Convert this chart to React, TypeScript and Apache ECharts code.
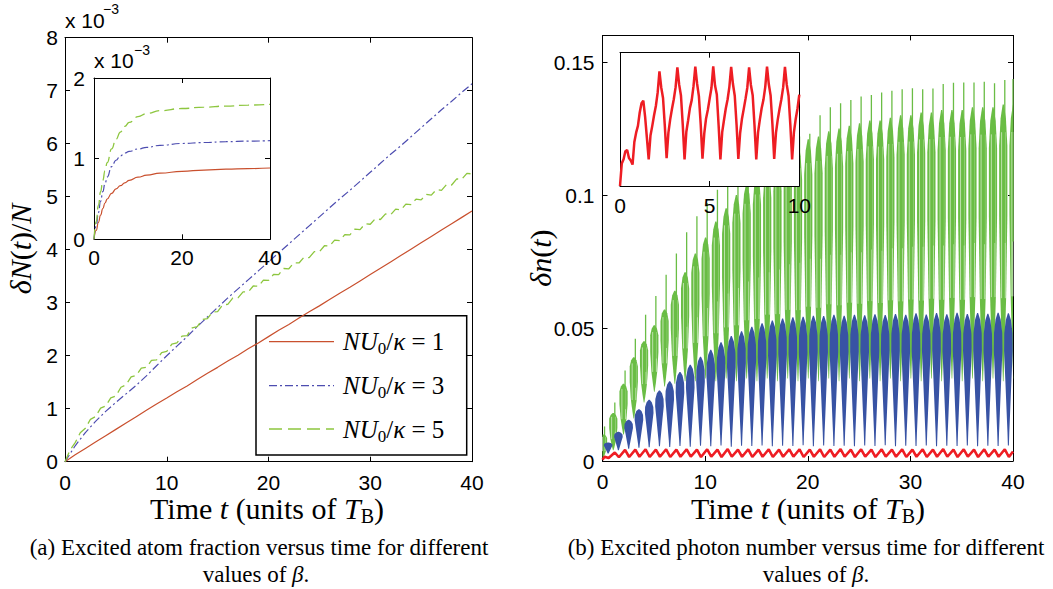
import React, { useEffect, useRef } from "react";
import * as echarts from "echarts";

// ---------------- Panel (a): excited atom fraction, values in units of 1e-3 ----------------
const timeA = [0, 1, 2, 3, 4, 5, 6, 7, 8, 9, 10, 11, 12, 13, 14, 15, 16, 17, 18, 19, 20, 21, 22, 23, 24, 25, 26, 27, 28, 29, 30, 31, 32, 33, 34, 35, 36, 37, 38, 39, 40];
const redA = [0, 0.13, 0.25, 0.37, 0.49, 0.61, 0.73, 0.85, 0.97, 1.09, 1.2, 1.32, 1.43, 1.55, 1.67, 1.78, 1.9, 2.01, 2.13, 2.24, 2.36, 2.48, 2.59, 2.71, 2.83, 2.94, 3.06, 3.18, 3.29, 3.41, 3.53, 3.65, 3.77, 3.89, 4.01, 4.13, 4.25, 4.37, 4.49, 4.61, 4.73];
const blueA = [0, 0.3, 0.55, 0.76, 0.95, 1.12, 1.28, 1.44, 1.62, 1.81, 2.0, 2.18, 2.36, 2.55, 2.73, 2.91, 3.09, 3.26, 3.43, 3.6, 3.77, 3.94, 4.11, 4.28, 4.45, 4.62, 4.79, 4.96, 5.12, 5.29, 5.46, 5.63, 5.8, 5.96, 6.13, 6.3, 6.47, 6.64, 6.8, 6.97, 7.13];
// green (NU0/kappa = 5) sampled every half unit, with its small ripples
const greenTimeA = [0, 0.5, 1, 1.5, 2, 2.5, 3, 3.5, 4, 4.5, 5, 5.5, 6, 6.5, 7, 7.5, 8, 8.5, 9, 9.5, 10, 10.5, 11, 11.5, 12, 12.5, 13, 13.5, 14, 14.5, 15, 15.5, 16, 16.5, 17, 17.5, 18, 18.5, 19, 19.5, 20, 20.5, 21, 21.5, 22, 22.5, 23, 23.5, 24, 24.5, 25, 25.5, 26, 26.5, 27, 27.5, 28, 28.5, 29, 29.5, 30, 30.5, 31, 31.5, 32, 32.5, 33, 33.5, 34, 34.5, 35, 35.5, 36, 36.5, 37, 37.5, 38, 38.5, 39, 39.5, 40];
const greenA = [0, 0.22, 0.36, 0.545, 0.63, 0.8, 0.85, 1.01, 1.05, 1.205, 1.24, 1.405, 1.45, 1.6, 1.63, 1.765, 1.78, 1.91, 1.92, 2.06, 2.08, 2.22, 2.24, 2.37, 2.38, 2.525, 2.55, 2.685, 2.7, 2.825, 2.83, 2.96, 2.97, 3.09, 3.09, 3.205, 3.2, 3.315, 3.31, 3.425, 3.42, 3.535, 3.53, 3.645, 3.64, 3.755, 3.75, 3.86, 3.85, 3.965, 3.96, 4.075, 4.07, 4.18, 4.17, 4.285, 4.28, 4.39, 4.38, 4.49, 4.48, 4.585, 4.57, 4.675, 4.66, 4.765, 4.75, 4.86, 4.85, 4.955, 4.94, 5.045, 5.03, 5.135, 5.12, 5.23, 5.22, 5.335, 5.33, 5.44, 5.43];
// inset (a)
const insetTimeA = [0, 0.5, 1, 1.5, 2, 2.5, 3, 4, 5, 6, 7, 8, 10, 12, 15, 20, 25, 30, 35, 40];
const insetRedA = [0, 0.11, 0.21, 0.3, 0.38, 0.45, 0.5, 0.57, 0.625, 0.665, 0.7, 0.73, 0.77, 0.795, 0.82, 0.843, 0.858, 0.869, 0.877, 0.884];
const insetBlueA = [0, 0.17, 0.33, 0.47, 0.59, 0.69, 0.77, 0.9, 0.98, 1.035, 1.07, 1.09, 1.12, 1.14, 1.165, 1.188, 1.2, 1.21, 1.217, 1.223];
const insetGreenA = [0, 0.22, 0.42, 0.59, 0.73, 0.85, 0.95, 1.12, 1.24, 1.33, 1.4, 1.45, 1.52, 1.56, 1.595, 1.622, 1.638, 1.652, 1.664, 1.674];
const legendLabels = ["1", "3", "5"];

// ---------------- Panel (b): excited photon number, one entry per Bloch period ----------------
const bluePeaksB = [0.007, 0.011, 0.0155, 0.0195, 0.023, 0.0265, 0.03, 0.0335, 0.0362, 0.0392, 0.0418, 0.0446, 0.047, 0.0488, 0.0505, 0.0518, 0.0528, 0.0536, 0.054, 0.0542, 0.0546, 0.0545, 0.055, 0.0546, 0.055, 0.0548, 0.0552, 0.0549, 0.0553, 0.055, 0.0555, 0.0551, 0.0556, 0.0552, 0.0557, 0.0553, 0.0556, 0.0554, 0.0557, 0.0555];
const blueTroughsB = [0.0028, 0.004, 0.0046, 0.005, 0.0052, 0.0055, 0.0053, 0.0056, 0.0054, 0.0057, 0.0055, 0.0058, 0.0054, 0.0057, 0.0056, 0.0058, 0.0055, 0.0057, 0.0056, 0.0059, 0.0055, 0.0058, 0.0056, 0.0057, 0.0055, 0.0058, 0.0056, 0.0059, 0.0055, 0.0057, 0.0056, 0.0058, 0.0055, 0.0057, 0.0056, 0.0058, 0.0055, 0.0057, 0.0056, 0.0058];
// green: 41 periods, centred between the blue spindles
const greenLowsB = [0.001, 0.004, 0.01, 0.016, 0.022, 0.026, 0.028, 0.029, 0.03, 0.03, 0.031, 0.03, 0.031, 0.03, 0.031, 0.03, 0.031, 0.03, 0.031, 0.03, 0.031, 0.03, 0.031, 0.03, 0.031, 0.03, 0.031, 0.03, 0.031, 0.03, 0.031, 0.03, 0.031, 0.03, 0.031, 0.03, 0.031, 0.03, 0.031, 0.03, 0.031];
const greenTopsB = [0.01, 0.018, 0.029, 0.039, 0.045, 0.051, 0.057, 0.064, 0.071, 0.078, 0.084, 0.09, 0.095, 0.1, 0.104, 0.108, 0.111, 0.114, 0.117, 0.119, 0.121, 0.122, 0.124, 0.125, 0.126, 0.127, 0.128, 0.128, 0.129, 0.13, 0.13, 0.131, 0.131, 0.132, 0.132, 0.132, 0.133, 0.133, 0.133, 0.134, 0.134];
const greenSpikesB = [0.013, 0.022, 0.034, 0.046, 0.055, 0.062, 0.07, 0.078, 0.086, 0.092, 0.097, 0.102, 0.106, 0.11, 0.113, 0.116, 0.118, 0.12, 0.121, 0.122, 0.123, 0.13, 0.133, 0.1345, 0.1357, 0.137, 0.1376, 0.1385, 0.1392, 0.1398, 0.1401, 0.1398, 0.14, 0.1417, 0.1422, 0.1423, 0.1423, 0.1426, 0.142, 0.1432, 0.1436];
const redPeaksB = [0.0016, 0.0032, 0.0042, 0.0043, 0.0044, 0.0043, 0.0044, 0.0043, 0.0044, 0.0043, 0.0044, 0.0043, 0.0045, 0.0043, 0.0044, 0.0043, 0.0044, 0.0043, 0.0044, 0.0044, 0.0043, 0.0044, 0.0043, 0.0045, 0.0043, 0.0044, 0.0043, 0.0044, 0.0043, 0.0044, 0.0043, 0.0044, 0.0043, 0.0045, 0.0043, 0.0044, 0.0043, 0.0044, 0.0043, 0.0044];
const redTroughsB = [0.0011, 0.0014, 0.0015, 0.0016, 0.0015, 0.0016, 0.0015, 0.0016, 0.0016, 0.0015, 0.0016, 0.0015, 0.0016, 0.0016, 0.0015, 0.0016, 0.0015, 0.0016, 0.0016, 0.0015, 0.0016, 0.0015, 0.0016, 0.0016, 0.0015, 0.0016, 0.0015, 0.0016, 0.0016, 0.0015, 0.0016, 0.0015, 0.0016, 0.0016, 0.0015, 0.0016, 0.0015, 0.0016, 0.0016, 0.0015];
const redStartB = 0.0005;
const redEndB = 0.0036;
// inset (b): red curve, t = 0 .. 10 every 0.1
const insetRedB = [0.0005, 0.00123, 0.00136, 0.00162, 0.00166, 0.0014, 0.00132, 0.00119, 0.00192, 0.00222, 0.00244, 0.00287, 0.00317, 0.00325, 0.00274, 0.00205, 0.00136, 0.00213, 0.00244, 0.00278, 0.00308, 0.00351, 0.0042, 0.00368, 0.00334, 0.00244, 0.0014, 0.00222, 0.00265, 0.00299, 0.0033, 0.00368, 0.00433, 0.00377, 0.00342, 0.00248, 0.00136, 0.00225, 0.00262, 0.00302, 0.00327, 0.00372, 0.00435, 0.0038, 0.0034, 0.0025, 0.00138, 0.0022, 0.00268, 0.00296, 0.00332, 0.00366, 0.00436, 0.00374, 0.00345, 0.00246, 0.00136, 0.00224, 0.00263, 0.003, 0.00329, 0.0037, 0.00434, 0.00379, 0.00341, 0.00249, 0.00137, 0.00221, 0.00266, 0.00298, 0.00331, 0.00367, 0.00433, 0.00376, 0.00343, 0.00247, 0.00136, 0.00223, 0.00264, 0.00301, 0.00328, 0.00369, 0.00435, 0.00378, 0.00342, 0.0025, 0.00137, 0.00222, 0.00265, 0.00299, 0.0033, 0.00368, 0.00434, 0.00377, 0.00341, 0.00248, 0.00136, 0.00223, 0.00266, 0.003, 0.00345];

// ---------------- styles ----------------
const RED_A = "#c9502e";
const BLUE_A = "#4d4db0";
const GREEN_A = "#8dc63f";
const GREEN_B = "#6abd45";
const BLUE_B = "#3853a4";
const RED_B = "#ee1d23";
const DASHDOT = [8, 3, 2, 3];
const DASHED = [10, 5];
const SANS = "Liberation Sans";
const SERIF = "Liberation Serif";
// phase of the features inside each Bloch period (time units)
const BLUE_PHASE = 0.55;
const GREEN_PHASE = 0.05;
const SPIKE_SHIFT = 0.15;
const SLIT_SHIFTS = [-0.16, 0.2];
const RED_PEAK_PHASE = 0.2;
const RED_TROUGH_PHASE = 0.6;
// lens shape of the fast oscillation envelopes: [height fraction, half width in time units]
const BLUE_PROFILE = [[0, 0.05], [0.1, 0.09], [0.25, 0.17], [0.5, 0.3], [0.72, 0.42], [0.85, 0.4], [0.95, 0.25], [1, 0.05]];
const GREEN_PROFILE = [[0, 0.03], [0.12, 0.14], [0.3, 0.28], [0.6, 0.4], [0.85, 0.4], [0.95, 0.26], [1, 0.06]];

const lensPoints = (api: any, c: number, lo: number, hi: number, profile: number[][]) => {
  const pts: number[][] = [];
  for (const [f, w] of profile) pts.push(api.coord([Math.max(0, c - w), lo + f * (hi - lo)]));
  for (let i = profile.length - 1; i >= 0; i--) {
    const [f, w] = profile[i];
    pts.push(api.coord([Math.min(40, c + w), lo + f * (hi - lo)]));
  }
  return pts;
};

const axisBase = (extra: any) => ({
  type: "value",
  splitLine: { show: false },
  axisLine: { onZero: false, lineStyle: { color: "#000", width: 1 } },
  axisTick: { inside: true, length: 5, lineStyle: { color: "#000", width: 1 } },
  axisLabel: { color: "#000", fontFamily: SANS, fontSize: 21 },
  ...extra,
});

export default function App() {
  const ref = useRef<HTMLDivElement>(null);
  useEffect(() => {
    document.body.style.margin = "0";
    const chart = echarts.init(ref.current!, undefined, { renderer: "svg" });

    const pairs = (ts: number[], vs: number[]) => ts.map((t, i) => [t, vs[i]]);
    const blueDataB = bluePeaksB.map((p, k) => [k + BLUE_PHASE, blueTroughsB[k], p]);
    const greenDataB = greenTopsB.map((p, k) => [k + GREEN_PHASE, greenLowsB[k], p, greenSpikesB[k]]);
    const redDataB: number[][] = [[0, redStartB]];
    redPeaksB.forEach((p, k) => {
      redDataB.push([k + RED_PEAK_PHASE, p]);
      redDataB.push([k + RED_TROUGH_PHASE, redTroughsB[k]]);
    });
    redDataB.push([40, redEndB]);
    const insetRedDataB = insetRedB.map((v, i) => [i / 10, v]);

    const noLabel = { show: false };
    const rich = (size: number) => ({
      it: { fontFamily: SERIF, fontStyle: "italic", fontSize: size, lineHeight: size + 6 },
      rm: { fontFamily: SERIF, fontSize: size, lineHeight: size + 6 },
      sub: { fontFamily: SERIF, fontSize: Math.round(size * 0.68), lineHeight: Math.round(size * 0.6), verticalAlign: "bottom" },
    });
    const txt = (x: number, y: number, text: string, size: number, extra: any = {}) => ({
      type: "text",
      x,
      y,
      ...extra,
      style: {
        text,
        fill: "#000",
        fontFamily: SERIF,
        fontSize: size,
        rich: rich(size),
        align: extra.align || "center",
        textAlign: extra.align || "center",
        verticalAlign: "middle",
        textVerticalAlign: "middle",
      },
    });
    const plain = (x: number, y: number, text: string, size: number, font: string) => ({
      type: "text",
      x,
      y,
      style: { text, fill: "#000", fontFamily: font, fontSize: size, align: "left", textAlign: "left", verticalAlign: "middle", textVerticalAlign: "middle" },
    });

    const legendY = [341.7, 385.7, 429];
    const legendStyles = [
      { stroke: RED_A, lineWidth: 1.3 },
      { stroke: BLUE_A, lineWidth: 1.3, lineDash: DASHDOT },
      { stroke: GREEN_A, lineWidth: 1.3, lineDash: [13, 6] },
    ];

    const graphic: any[] = [
      plain(65, 20.8, "x 10", 21, SANS),
      plain(103, 9, "−3", 14, SANS),
      plain(94, 60.8, "x 10", 21, SANS),
      plain(134, 50, "−3", 14, SANS),
      { type: "rect", shape: { x: 256, y: 315.7, width: 210.7, height: 139.3 }, style: { fill: "none", stroke: "#000", lineWidth: 1.5 } },
      ...legendY.map((y, i) => ({ type: "line", shape: { x1: 269, y1: y, x2: 334, y2: y }, style: legendStyles[i] })),
      ...legendY.map((y, i) => txt(343, y, `{it|NU}{sub|0}{rm|/}{it|κ}{rm| = ${legendLabels[i]}}`, 25, { align: "left" })),
      txt(267, 508, "{rm|Time }{it|t}{rm| (units of }{it|T}{sub|B}{rm|)}", 30),
      txt(808, 508, "{rm|Time }{it|t}{rm| (units of }{it|T}{sub|B}{rm|)}", 30),
      txt(259, 547, "{rm|(a) Excited atom fraction versus time for different}", 23),
      txt(256, 574, "{rm|values of }{it|β}{rm|.}", 23),
      txt(806, 547, "{rm|(b) Excited photon number versus time for different}", 23),
      txt(816, 574, "{rm|values of }{it|β}{rm|.}", 23),
      txt(20, 249, "{it|δN}{rm|(}{it|t}{rm|)/}{it|N}", 30, { rotation: Math.PI / 2 }),
      txt(540, 258, "{it|δn}{rm|(}{it|t}{rm|)}", 30, { rotation: Math.PI / 2 }),
    ];

    const insetLine = (vals: number[], color: string, width: number, type: any) => ({
      type: "line", xAxisIndex: 2, yAxisIndex: 2, z: 12, data: pairs(insetTimeA, vals), smooth: true, smoothMonotone: "x",
      showSymbol: false, lineStyle: { color, width, type },
    });

    const option: any = {
      animation: false,
      backgroundColor: "#fff",
      grid: [
        { left: 65, top: 37.7, width: 407, height: 424 },
        { left: 94, top: 78, width: 176, height: 161.3, show: true, backgroundColor: "#fff", borderWidth: 0, z: 10 },
        { left: 602.5, top: 35.4, width: 410.5, height: 425.6 },
        { left: 620, top: 52.7, width: 179.3, height: 133.3, show: true, backgroundColor: "#fff", borderWidth: 0, z: 10 },
      ],
      xAxis: [
        axisBase({ gridIndex: 0, position: "bottom", min: 0, max: 40, interval: 10, axisLabel: { color: "#000", fontFamily: SANS, fontSize: 21, margin: 10 } }),
        axisBase({ gridIndex: 0, position: "top", min: 0, max: 40, interval: 10, axisLabel: noLabel }),
        axisBase({ gridIndex: 1, position: "bottom", min: 0, max: 40, interval: 20, z: 11, axisLabel: { color: "#000", fontFamily: SANS, fontSize: 21, margin: 8 } }),
        axisBase({ gridIndex: 1, position: "top", min: 0, max: 40, interval: 20, z: 11, axisLabel: noLabel }),
        axisBase({ gridIndex: 2, position: "bottom", min: 0, max: 40, interval: 10, axisLabel: { color: "#000", fontFamily: SANS, fontSize: 21, margin: 10 } }),
        axisBase({ gridIndex: 2, position: "top", min: 0, max: 40, interval: 10, axisLabel: noLabel }),
        axisBase({ gridIndex: 3, position: "bottom", min: 0, max: 10, interval: 5, z: 11, axisLabel: { color: "#000", fontFamily: SANS, fontSize: 21, margin: 9 } }),
        axisBase({ gridIndex: 3, position: "top", min: 0, max: 10, interval: 5, z: 11, axisLabel: noLabel }),
      ],
      yAxis: [
        axisBase({ gridIndex: 0, position: "left", min: 0, max: 8, interval: 1, axisLabel: { color: "#000", fontFamily: SANS, fontSize: 21, margin: 7 } }),
        axisBase({ gridIndex: 0, position: "right", min: 0, max: 8, interval: 1, axisLabel: noLabel }),
        axisBase({ gridIndex: 1, position: "left", min: 0, max: 2, interval: 1, z: 11, axisLabel: { color: "#000", fontFamily: SANS, fontSize: 21, margin: 9 } }),
        axisBase({ gridIndex: 1, position: "right", min: 0, max: 2, interval: 1, z: 11, axisLabel: noLabel }),
        axisBase({ gridIndex: 2, position: "left", min: 0, max: 0.16, interval: 0.05, axisLabel: { color: "#000", fontFamily: SANS, fontSize: 21, margin: 8, showMaxLabel: false } }),
        axisBase({ gridIndex: 2, position: "right", min: 0, max: 0.16, interval: 0.05, axisLabel: noLabel }),
        axisBase({ gridIndex: 3, position: "left", min: 0.0005, max: 0.0048, z: 11, axisTick: { show: false }, axisLabel: noLabel }),
        axisBase({ gridIndex: 3, position: "right", min: 0.0005, max: 0.0048, z: 11, axisTick: { show: false }, axisLabel: noLabel }),
      ],
      series: [
        { type: "line", name: "NU0/k=1", xAxisIndex: 0, yAxisIndex: 0, data: pairs(timeA, redA), showSymbol: false, lineStyle: { color: RED_A, width: 1.2 } },
        { type: "line", name: "NU0/k=3", xAxisIndex: 0, yAxisIndex: 0, data: pairs(timeA, blueA), showSymbol: false, lineStyle: { color: BLUE_A, width: 1.2, type: DASHDOT } },
        { type: "line", name: "NU0/k=5", xAxisIndex: 0, yAxisIndex: 0, data: pairs(greenTimeA, greenA), showSymbol: false, lineStyle: { color: GREEN_A, width: 1.3, type: DASHED } },
        insetLine(insetRedA, RED_A, 1.2, "solid"),
        insetLine(insetBlueA, BLUE_A, 1.2, DASHDOT),
        insetLine(insetGreenA, GREEN_A, 1.3, DASHED),
        {
          type: "custom",
          xAxisIndex: 4,
          yAxisIndex: 4,
          clip: true,
          data: greenDataB,
          encode: { x: 0, y: [1, 2, 3] },
          renderItem: (params: any, api: any) => {
            const c = api.value(0), lo = api.value(1), hi = api.value(2), sp = api.value(3);
            const xs = Math.min(40, Math.max(0, c + SPIKE_SHIFT));
            const a = api.coord([xs, lo + 0.5 * (hi - lo)]);
            const b = api.coord([xs, sp]);
            const slits = SLIT_SHIFTS.map((s) => {
              const xx = Math.min(40, Math.max(0, c + s));
              const p = api.coord([xx, lo + 0.3 * (hi - lo)]);
              const q = api.coord([xx, lo + 0.9 * (hi - lo)]);
              return { type: "line", shape: { x1: p[0], y1: p[1], x2: q[0], y2: q[1] }, style: { stroke: "#fff", lineWidth: 0.7, opacity: 0.8 } };
            });
            return {
              type: "group",
              children: [
                { type: "polygon", shape: { points: lensPoints(api, c, lo, hi, GREEN_PROFILE) }, style: { fill: GREEN_B } },
                ...slits,
                { type: "line", shape: { x1: a[0], y1: a[1], x2: b[0], y2: b[1] }, style: { stroke: GREEN_B, lineWidth: 1.3 } },
              ],
            };
          },
        },
        {
          type: "custom",
          xAxisIndex: 4,
          yAxisIndex: 4,
          clip: true,
          data: blueDataB,
          encode: { x: 0, y: [1, 2] },
          renderItem: (params: any, api: any) => ({
            type: "polygon",
            shape: { points: lensPoints(api, api.value(0), api.value(1), api.value(2), BLUE_PROFILE) },
            style: { fill: BLUE_B },
          }),
        },
        { type: "line", xAxisIndex: 4, yAxisIndex: 4, data: redDataB, showSymbol: false, lineStyle: { color: RED_B, width: 2.6 } },
        { type: "line", xAxisIndex: 6, yAxisIndex: 6, z: 12, data: insetRedDataB, showSymbol: false, lineStyle: { color: RED_B, width: 2.5 } },
      ],
      graphic,
    };
    chart.setOption(option);
    return () => chart.dispose();
  }, []);
  return <div ref={ref} style={{ width: 1053, height: 589 }} />;
}
